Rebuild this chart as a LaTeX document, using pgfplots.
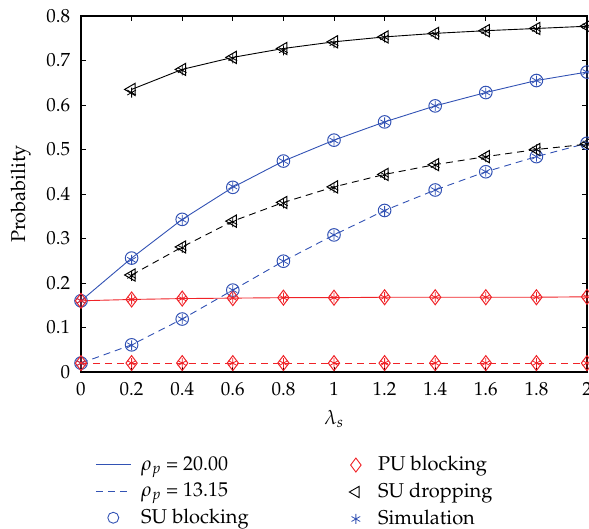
\documentclass[border=0pt]{standalone}
\usepackage[T1]{fontenc}
\usepackage{mathpazo}
\usepackage{pgfplots}
\pgfplotsset{compat=1.18}
\definecolor{mblue}{RGB}{50,82,180}
\definecolor{mred}{RGB}{240,35,40}

\pgfplotstableread{
x y
0 0.160
0.2 0.256
0.4 0.343
0.6 0.415
0.8 0.474
1.0 0.521
1.2 0.562
1.4 0.598
1.6 0.628
1.8 0.655
2.0 0.674
}\sbA
\pgfplotstableread{
x y
0 0.020
0.2 0.061
0.4 0.119
0.6 0.184
0.8 0.249
1.0 0.308
1.2 0.363
1.4 0.409
1.6 0.450
1.8 0.484
2.0 0.514
}\sbB
\pgfplotstableread{
x y
0.2 0.635
0.4 0.680
0.6 0.707
0.8 0.727
1.0 0.742
1.2 0.753
1.4 0.761
1.6 0.767
1.8 0.772
2.0 0.777
}\sdA
\pgfplotstableread{
x y
0.2 0.218
0.4 0.281
0.6 0.339
0.8 0.381
1.0 0.416
1.2 0.444
1.4 0.466
1.6 0.484
1.8 0.500
2.0 0.512
}\sdB
\pgfplotstableread{
x y
0 0.160
0.2 0.163
0.4 0.165
0.6 0.166
0.8 0.167
1.0 0.167
1.2 0.168
1.4 0.168
1.6 0.168
1.8 0.168
2.0 0.169
}\pbA
\pgfplotstableread{
x y
0 0.020
0.2 0.020
0.4 0.020
0.6 0.020
0.8 0.020
1.0 0.020
1.2 0.020
1.4 0.020
1.6 0.020
1.8 0.020
2.0 0.020
}\pbB
% simulation points
\pgfplotstableread{
x y
0 0.160
0.2 0.252
0.4 0.342
0.6 0.417
0.8 0.474
1.0 0.520
1.2 0.561
1.4 0.598
1.6 0.628
1.8 0.655
2.0 0.674
}\simA
\pgfplotstableread{
x y
0 0.020
0.2 0.060
0.4 0.119
0.6 0.184
0.8 0.249
1.0 0.308
1.2 0.362
1.4 0.409
1.6 0.450
1.8 0.484
2.0 0.514
}\simB
\pgfplotstableread{
x y
0.2 0.628
0.4 0.678
0.6 0.705
0.8 0.723
1.0 0.739
1.2 0.752
1.4 0.760
1.6 0.766
1.8 0.771
2.0 0.777
}\simC
\pgfplotstableread{
x y
0.2 0.216
0.4 0.279
0.6 0.337
0.8 0.379
1.0 0.414
1.2 0.443
1.4 0.465
1.6 0.483
1.8 0.500
2.0 0.512
}\simD

\newcommand{\fs}{\fontsize{20}{23}\selectfont}
\newcommand{\ft}{\fontsize{19}{22}\selectfont}
\begin{document}
\fs
\begin{tikzpicture}[font=\fs]
\pgfplotsset{
  every axis/.append style={
    scale only axis, width=506pt, height=356pt,
    xmin=0, xmax=2, ymin=0, ymax=0.8,
  },
  every tick label/.append style={font=\ft},
  every axis label/.append style={font=\fs},
}
\begin{axis}[
  xtick={0,0.2,0.4,0.6,0.8,1,1.2,1.4,1.6,1.8,2},
  xticklabels={0,0.2,0.4,0.6,0.8,1,1.2,1.4,1.6,1.8,2},
  ytick={0,0.1,0.2,0.3,0.4,0.5,0.6,0.7,0.8},
  yticklabels={0,0.1,0.2,0.3,0.4,0.5,0.6,0.7,0.8},
  tick align=inside, major tick length=5pt,
  tick style={black, line width=0.8pt},
  axis line style={line width=1.2pt},
  xticklabel style={yshift=-3pt},
  yticklabel style={xshift=-4pt},
  xlabel={$\lambda_s$}, ylabel={Probability},
  xlabel style={yshift=-1pt},
  ylabel style={yshift=2pt},
  legend style={at={(0.022,-0.225)}, anchor=north west, draw=none, fill=none,
    row sep=5.5pt, column sep=8pt, cells={anchor=west}, font=\fs},
]
% SU blocking
\addplot[mblue, line width=0.9pt, mark=o, mark size=6.3pt, mark options={solid, line width=1pt}, forget plot] table {\sbA};
\addplot[mblue, line width=0.9pt, dash pattern=on 7pt off 5pt, mark=o, mark size=6.3pt, mark options={solid, line width=1pt}, forget plot] table {\sbB};
% SU dropping
\addplot[black, line width=0.9pt, mark=triangle, mark size=7pt, mark options={solid, rotate=90, line width=1pt}, forget plot] table {\sdA};
\addplot[black, line width=0.9pt, dash pattern=on 7pt off 5pt, mark=triangle, mark size=7pt, mark options={solid, rotate=90, line width=1pt}, forget plot] table {\sdB};
% PU blocking
\addplot[mred, line width=0.9pt, mark=diamond, mark size=7.5pt, mark options={solid, line width=1pt}, forget plot] table {\pbA};
\addplot[mred, line width=0.9pt, dash pattern=on 7pt off 5pt, mark=diamond, mark size=7.5pt, mark options={solid, line width=1pt}, forget plot] table {\pbB};
% simulation
\addplot[only marks, mblue, mark=asterisk, mark size=5pt, mark options={line width=0.8pt}, forget plot] table {\simA};
\addplot[only marks, mblue, mark=asterisk, mark size=5pt, mark options={line width=0.8pt}, forget plot] table {\simB};
\addplot[only marks, black, mark=asterisk, mark size=5pt, mark options={line width=0.8pt}, forget plot] table {\simC};
\addplot[only marks, black, mark=asterisk, mark size=5pt, mark options={line width=0.8pt}, forget plot] table {\simD};
\addplot[only marks, mred, mark=asterisk, mark size=5pt, mark options={line width=0.8pt}, forget plot] table {\pbA};
\addplot[only marks, mred, mark=asterisk, mark size=5pt, mark options={line width=0.8pt}, forget plot] table {\pbB};
% legend column 1
\addlegendimage{legend image code/.code={\draw[draw=mblue, color=mblue, solid, line width=0.9pt] (0pt,0pt) -- (35pt,0pt);}}
\addlegendentry{$\rho_p$ = 20.00}
\addlegendimage{legend image code/.code={\draw[draw=mblue, color=mblue, solid, line width=0.9pt] (0pt,0pt) -- (7pt,0pt) (12pt,0pt) -- (19pt,0pt) (24pt,0pt) -- (31pt,0pt); \path (35pt,0pt);}}
\addlegendentry{$\rho_p$ = 13.15}
\addlegendimage{legend image code/.code={\path (0pt,0pt) (35pt,0pt); \draw[draw=mblue, color=mblue, line width=0.9pt, only marks, mark=o, mark size=5.5pt] plot coordinates {(17.5pt,0pt)};}}
\addlegendentry{SU blocking}
\end{axis}
\begin{axis}[
  hide axis,
  legend style={at={(0.524,-0.225)}, anchor=north west, draw=none, fill=none,
    row sep=5.5pt, column sep=15pt, cells={anchor=west}, font=\fs},
]
\addlegendimage{legend image code/.code={\draw[draw=mred, color=mred, line width=0.9pt, only marks, mark=diamond, mark size=7pt] plot coordinates {(8pt,0pt)};}}
\addlegendentry{PU blocking}
\addlegendimage{legend image code/.code={\draw[draw=black, color=black, line width=0.9pt, only marks, mark=triangle, mark size=6.5pt, mark options={rotate=90}] plot coordinates {(8pt,0pt)};}}
\addlegendentry{SU dropping}
\addlegendimage{legend image code/.code={\draw[draw=mblue, color=mblue, line width=0.8pt, only marks, mark=asterisk, mark size=5pt] plot coordinates {(8pt,0pt)};}}
\addlegendentry{Simulation}
\end{axis}
\pgfresetboundingbox
\path ([shift={(-81pt,-157pt)}]current axis.south west) rectangle ([shift={(2pt,16pt)}]current axis.north east);
\end{tikzpicture}
\end{document}
